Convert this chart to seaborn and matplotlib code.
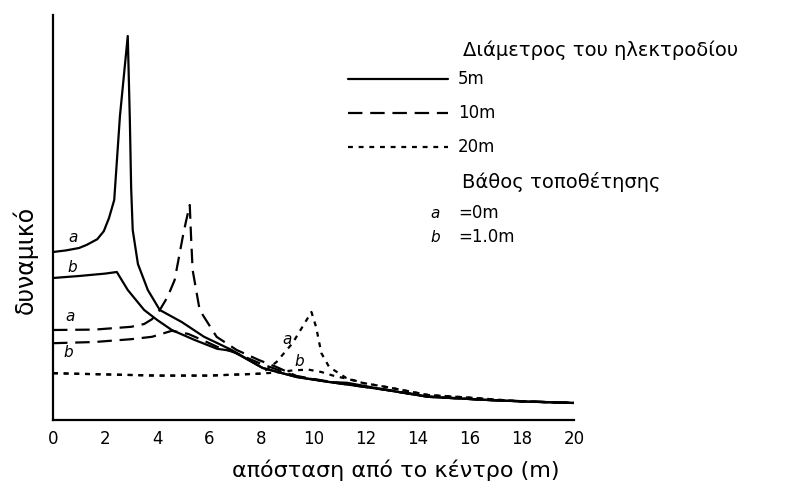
import matplotlib
matplotlib.use("Agg")
import matplotlib.pyplot as plt
from matplotlib.lines import Line2D
import pandas as pd
import seaborn as sns

# Potential (arbitrary units) against distance from the centre (m)
# for three electrode diameters (5, 10, 20 m) and two burial depths (a, b).
x_5m_a = [0.0, 0.5, 1.0, 1.3, 1.7, 1.95, 2.15, 2.35, 2.57, 2.75, 2.87, 2.95, 3.0, 3.06, 3.26,
          3.64, 4.1, 4.94, 5.8, 6.86, 8.05, 9.35, 10.6, 11.3, 12.8, 14.4, 16.7, 18.2, 20.0]
y_5m_a = [42.0, 42.4, 43.0, 43.8, 45.2, 47.2, 50.5, 55.0, 76.0, 88.0, 96.0, 75.0, 58.0, 47.5,
          39.0, 32.5, 27.5, 24.5, 20.8, 17.5, 13.0, 10.75, 9.5, 9.3, 7.5, 5.8, 5.0, 4.6, 4.25]

x_5m_b = [0.0, 1.0, 2.0, 2.45, 2.87, 3.5, 4.0, 4.56, 5.44, 6.3, 6.86, 8.05, 9.35,
          10.6, 12.8, 14.4, 16.7, 18.2, 20.0]
y_5m_b = [35.5, 36.0, 36.6, 37.0, 32.5, 27.5, 25.0, 22.5, 20.0, 17.8, 17.3, 13.0, 10.75,
          9.5, 7.5, 5.8, 5.0, 4.6, 4.25]

x_10m_a = [0.0, 1.6, 3.0, 3.5, 3.8, 4.1, 4.4, 4.67, 4.98, 5.1, 5.25, 5.3, 5.36, 5.63, 6.28,
           7.05, 7.9, 8.58, 9.35, 10.6, 12.8, 14.4, 16.7, 20.0]
y_10m_a = [22.5, 22.6, 23.3, 24.0, 25.2, 27.5, 30.8, 35.0, 45.75, 49.5, 53.75, 45.75, 37.5,
           27.5, 20.8, 17.5, 15.0, 13.25, 11.0, 9.6, 7.6, 5.9, 5.0, 4.25]

x_10m_b = [0.0, 1.6, 3.0, 3.8, 4.56, 5.2, 5.9, 6.3, 7.0, 8.0, 9.35, 10.6, 12.8, 14.4,
           16.7, 20.0]
y_10m_b = [19.2, 19.5, 20.2, 20.8, 22.3, 21.5, 19.5, 18.3, 16.8, 14.0, 10.9, 9.5, 7.5, 5.8,
           5.0, 4.25]

x_20m_a = [0.0, 2.0, 4.0, 6.0, 8.0, 8.58, 9.2, 9.92, 10.1, 10.3, 10.6, 11.26, 11.9, 12.8,
           14.4, 16.2, 18.0, 20.0]
y_20m_a = [11.7, 11.4, 11.1, 11.1, 11.6, 14.5, 19.25, 27.0, 23.25, 16.75, 13.25, 10.5, 9.25,
           8.25, 6.25, 5.5, 4.6, 4.3]

x_20m_b = [0.0, 2.0, 4.0, 6.0, 8.0, 8.6, 9.2, 9.8, 10.3, 10.8, 11.3, 11.9, 12.8, 14.4,
           16.2, 18.0, 20.0]
y_20m_b = [11.7, 11.4, 11.1, 11.1, 11.6, 11.9, 12.4, 12.6, 12.0, 11.0, 10.3, 9.25, 8.25,
           6.25, 5.5, 4.6, 4.3]

x_ticks = [0, 2, 4, 6, 8, 10, 12, 14, 16, 18, 20]
diameters = ["5m", "10m", "20m"]
depth_labels = ["=0m", "=1.0m"]

sns.set_style("white")
plt.rcParams["font.family"] = ["DejaVu Sans"]
plt.rcParams["text.color"] = "black"
plt.rcParams["xtick.color"] = "black"
plt.rcParams["axes.labelcolor"] = "black"

DASH_10 = (0, (6.5, 3.5))
DOT_20 = (0, (2.2, 2.6))
styles = {"5m": "-", "10m": DASH_10, "20m": DOT_20}

series = [
    ("5m", "a", x_5m_a, y_5m_a),
    ("5m", "b", x_5m_b, y_5m_b),
    ("10m", "a", x_10m_a, y_10m_a),
    ("10m", "b", x_10m_b, y_10m_b),
    ("20m", "a", x_20m_a, y_20m_a),
    ("20m", "b", x_20m_b, y_20m_b),
]

W, H = 796, 484
fig = plt.figure(figsize=(W / 100, H / 100), dpi=100)


def fx(px):
    return px / W


def fy(py):
    return 1 - py / H


ax = fig.add_axes([fx(53), fy(420), (574 - 53) / W, (420 - 15) / H])

for diam, depth, xs, ys in series:
    df = pd.DataFrame({"x": xs, "y": ys})
    sns.lineplot(data=df, x="x", y="y", ax=ax, color="black", lw=1.6,
                 linestyle=styles[diam], estimator=None, sort=False)

ax.set_xlim(0, 20)
ax.set_ylim(0, 101.25)
ax.set_xticks(x_ticks)
ax.set_xticklabels([str(t) for t in x_ticks], fontsize=12, color="black")
ax.set_yticks([])
ax.set_xlabel("")
ax.set_ylabel("")
ax.tick_params(axis="x", direction="in", length=4, width=1.2, pad=7, colors="black")
for side in ("top", "right"):
    ax.spines[side].set_visible(False)
for side in ("left", "bottom"):
    ax.spines[side].set_linewidth(1.6)
    ax.spines[side].set_color("black")

# depth markers beside each curve
curve_tags = [
    ("a", 0.77, 45.5), ("b", 0.73, 38.0),
    ("a", 0.65, 25.8), ("b", 0.6, 16.8),
    ("a", 9.0, 20.0), ("b", 9.46, 14.5),
]
for tag, tx, ty in curve_tags:
    ax.text(tx, ty, tag, fontsize=11, style="italic", ha="center", va="center",
            color="black")

# axis titles
fig.text(fx(396), fy(470), "απόσταση από το κέντρο (m)", fontsize=16,
         ha="center", va="center", color="black")
fig.text(fx(25), fy(260), "δυναμικό", fontsize=17, rotation=90,
         ha="center", va="center", color="black")

# key: electrode diameter and burial depth
fig.text(fx(463), fy(50), "Διάμετρος του ηλεκτροδίου", fontsize=14, ha="left",
         va="center", color="black")
for label, row_y in zip(diameters, [79, 113, 147]):
    fig.add_artist(Line2D([fx(348), fx(448)], [fy(row_y), fy(row_y)],
                          transform=fig.transFigure, color="black", lw=1.6,
                          linestyle=styles[label]))
    fig.text(fx(458), fy(row_y), label, fontsize=12, ha="left", va="center", color="black")
fig.text(fx(462), fy(182), "Βάθος τοποθέτησης", fontsize=14, ha="left", va="center",
         color="black")
for tag, text, row_y in zip(["a", "b"], depth_labels, [213, 237]):
    fig.text(fx(435), fy(row_y), tag, fontsize=11, style="italic", ha="center",
             va="center", color="black")
    fig.text(fx(458), fy(row_y), text, fontsize=12, ha="left", va="center", color="black")

fig.savefig("out.png", dpi=100)
